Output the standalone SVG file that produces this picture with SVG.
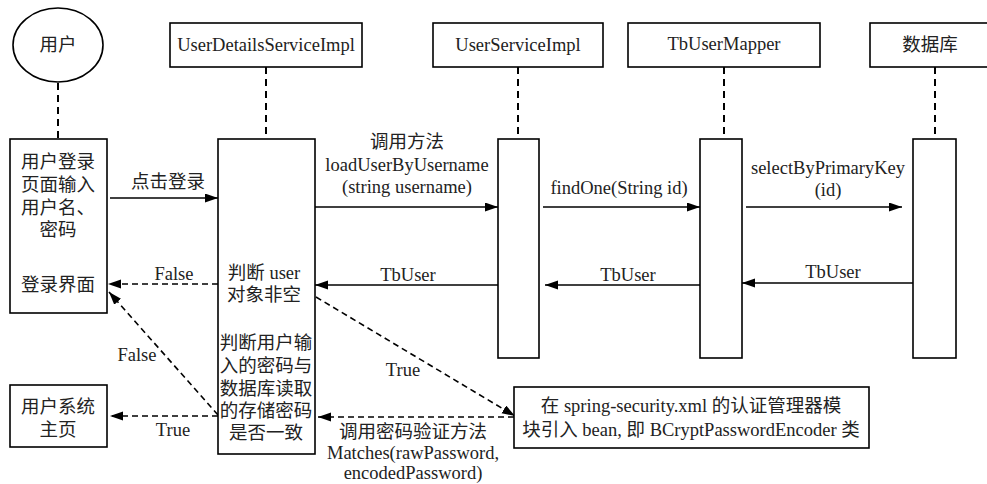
<svg xmlns="http://www.w3.org/2000/svg" width="987" height="484" viewBox="0 0 987 484">
<defs>
<marker id="ah" markerUnits="userSpaceOnUse" markerWidth="14" markerHeight="10" refX="13" refY="4.5" orient="auto">
<path d="M0,0 L13,4.5 L0,9 z" fill="#000"/>
</marker>
<style>
.box{fill:#fff;stroke:#000;stroke-width:1.6}
.life{stroke:#000;stroke-width:2;stroke-dasharray:7,5;fill:none}
.msg{stroke:#000;stroke-width:1.6;fill:none;marker-end:url(#ah)}
.dash{stroke:#000;stroke-width:1.6;stroke-dasharray:6,4;fill:none;marker-end:url(#ah)}
text{font-family:"Liberation Serif","Noto Sans CJK SC",serif;font-size:18.5px;fill:#222;text-anchor:middle;dominant-baseline:central}
</style>
</defs>
<rect width="987" height="484" fill="#fff"/>
<g id="connectors">
<line class="life" x1="58" y1="83" x2="58" y2="139"/>
<line class="life" x1="266" y1="67" x2="266" y2="139"/>
<line class="life" x1="518" y1="67" x2="518" y2="139"/>
<line class="life" x1="724" y1="67" x2="724" y2="139"/>
<line class="life" x1="935" y1="67" x2="935" y2="139"/>
<line class="msg" x1="110" y1="198" x2="218" y2="198"/>
<line class="msg" x1="315" y1="207" x2="498" y2="207"/>
<line class="msg" x1="543" y1="207" x2="700" y2="207"/>
<line class="msg" x1="746" y1="207" x2="902" y2="207"/>
<line class="msg" x1="913" y1="283" x2="742" y2="283"/>
<line class="msg" x1="700" y1="285" x2="545" y2="285"/>
<line class="msg" x1="498" y1="285" x2="315" y2="285"/>
<line class="dash" x1="218" y1="284" x2="108" y2="284"/>
<line class="dash" x1="218" y1="415" x2="109" y2="292"/>
<line class="dash" x1="218" y1="416" x2="110" y2="416"/>
<line class="dash" x1="316" y1="297" x2="515" y2="416"/>
<line class="dash" x1="514" y1="417" x2="318" y2="417"/>
<text x="168" y="182">点击登录</text>
<text x="407" y="142">调用方法</text>
<text x="407" y="165">loadUserByUsername</text>
<text x="407" y="187">(string username)</text>
<text x="619" y="188">findOne(String id)</text>
<text x="828" y="168">selectByPrimaryKey</text>
<text x="828" y="190">(id)</text>
<text x="833" y="272">TbUser</text>
<text x="628" y="275">TbUser</text>
<text x="408" y="275">TbUser</text>
<text x="174" y="274">False</text>
<text x="137" y="355">False</text>
<text x="173" y="430">True</text>
<text x="403" y="370">True</text>
<text x="413" y="432">调用密码验证方法</text>
<text x="413" y="453">Matches(rawPassword,</text>
<text x="413" y="473">encodedPassword)</text>
</g>
<g id="user">
<ellipse class="box" cx="58" cy="45" rx="45" ry="37"/>
<text x="58" y="45">用户</text>
</g>
<g id="userDetailsServiceImpl">
<rect class="box" x="170" y="23" width="192" height="44"/>
<text x="266" y="45">UserDetailsServiceImpl</text>
</g>
<g id="userServiceImpl">
<rect class="box" x="433" y="23" width="170" height="44"/>
<text x="518" y="45">UserServiceImpl</text>
</g>
<g id="tbUserMapper">
<rect class="box" x="628" y="23" width="192" height="44"/>
<text x="724" y="44">TbUserMapper</text>
</g>
<g id="database">
<rect class="box" x="870" y="23" width="130" height="44"/>
<text x="930" y="45">数据库</text>
</g>
<g id="loginPage">
<rect class="box" x="10" y="139" width="97" height="174"/>
<text x="58" y="162">用户登录</text>
<text x="58" y="185">页面输入</text>
<text x="58" y="208">用户名、</text>
<text x="58" y="230">密码</text>
<text x="58" y="285">登录界面</text>
</g>
<g id="detailsActivation">
<rect class="box" x="218" y="139" width="97" height="315"/>
<text x="264" y="273">判断 user</text>
<text x="264" y="295">对象非空</text>
<text x="266" y="343">判断用户输</text>
<text x="266" y="366">入的密码与</text>
<text x="266" y="389">数据库读取</text>
<text x="266" y="411">的存储密码</text>
<text x="266" y="433">是否一致</text>
</g>
<g id="serviceActivation">
<rect class="box" x="498" y="139" width="41" height="219"/>
</g>
<g id="mapperActivation">
<rect class="box" x="700" y="139" width="42" height="219"/>
</g>
<g id="dbActivation">
<rect class="box" x="913" y="139" width="43" height="219"/>
</g>
<g id="homePage">
<rect class="box" x="10" y="385" width="97" height="62"/>
<text x="58" y="407">用户系统</text>
<text x="58" y="430">主页</text>
</g>
<g id="bcrypt">
<rect class="box" x="514" y="387" width="355" height="61"/>
<text x="691" y="406">在 spring-security.xml 的认证管理器模</text>
<text x="691" y="430">块引入 bean, 即 BCryptPasswordEncoder 类</text>
</g>
</svg>
